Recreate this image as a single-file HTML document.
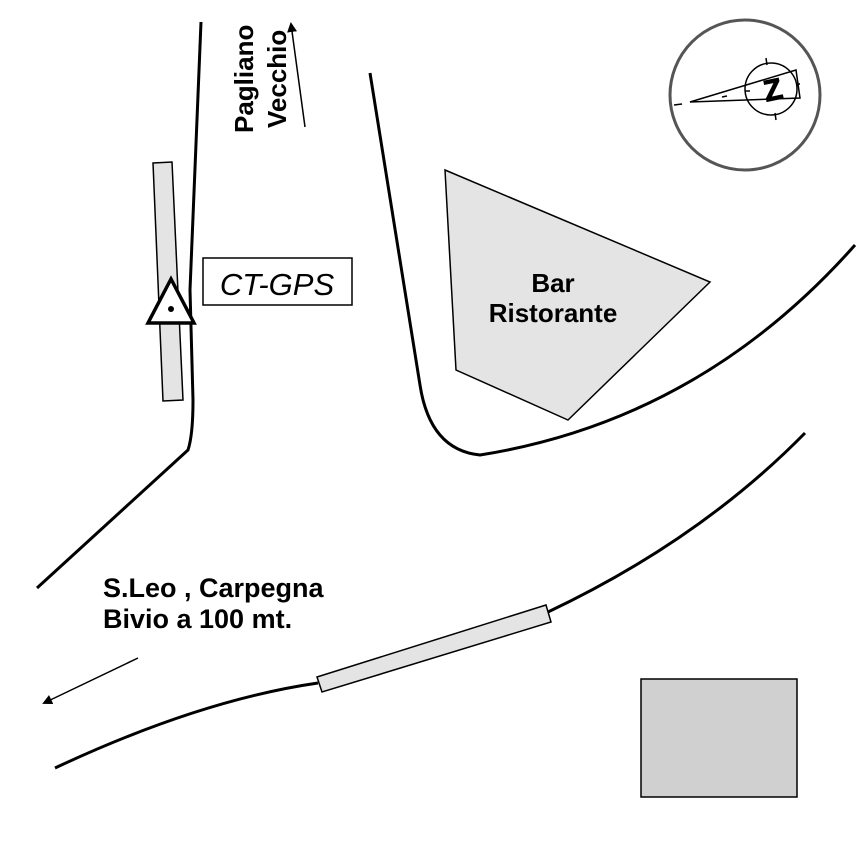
<!DOCTYPE html>
<html><head><style>body{margin:0;background:#fff}svg{display:block}</style></head><body>
<svg width="866" height="866" viewBox="0 0 866 866" xmlns="http://www.w3.org/2000/svg" font-family="Liberation Sans, sans-serif">
<defs><marker id="ah" markerWidth="10" markerHeight="10" refX="8" refY="5" orient="auto" markerUnits="userSpaceOnUse"><path d="M0,0 L10,5 L0,10 z" fill="#000"/></marker></defs>
<polygon points="153,163 172,162 183,400 163,401" fill="#e4e4e4" stroke="#000" stroke-width="1.5"/>
<path d="M201,22 L190,290 Q191,330 193,400 Q193,435 188,450 L37,588" fill="none" stroke="#000" stroke-width="3"/>
<polygon points="171,279 148,323 194,323" fill="#fff" stroke="#000" stroke-width="3.5"/>
<circle cx="171" cy="309" r="3" fill="#000"/>
<rect x="203" y="258" width="149" height="47" fill="#fff" stroke="#000" stroke-width="1.5"/>
<text x="277" y="295" font-size="31" font-style="italic" text-anchor="middle">CT-GPS</text>
<text transform="translate(253,133) rotate(-90)" font-size="26" font-weight="bold">Pagliano</text>
<text transform="translate(286,128) rotate(-90)" font-size="26" font-weight="bold">Vecchio</text>
<line x1="305" y1="127" x2="291" y2="24" stroke="#000" stroke-width="1.5" marker-end="url(#ah)"/>
<path d="M370,73 L420,385 Q430,450 480,455 Q700,420 855,245" fill="none" stroke="#000" stroke-width="3"/>
<polygon points="445,170 710,282 568,420 456,370" fill="#e4e4e4" stroke="#000" stroke-width="1.5"/>
<text x="553" y="292" font-size="26" font-weight="bold" text-anchor="middle">Bar</text>
<text x="553" y="322" font-size="26" font-weight="bold" text-anchor="middle">Ristorante</text>
<circle cx="745" cy="95" r="75" fill="#fff" stroke="#555" stroke-width="3"/>
<circle cx="771" cy="89" r="26" fill="none" stroke="#000" stroke-width="1.5"/>
<path d="M690,102 L796,70 L800,98 Z" fill="none" stroke="#000" stroke-width="1.5"/>
<line x1="674" y1="105" x2="682" y2="104" stroke="#000" stroke-width="1.5"/>
<line x1="722" y1="97" x2="727" y2="96" stroke="#000" stroke-width="1.5"/>
<line x1="766" y1="58" x2="767" y2="65" stroke="#000" stroke-width="1.5"/>
<line x1="775" y1="113" x2="776" y2="120" stroke="#000" stroke-width="1.5"/>
<line x1="745" y1="91" x2="750" y2="91" stroke="#000" stroke-width="1.5"/>
<line x1="796" y1="84" x2="800" y2="84" stroke="#000" stroke-width="1.5"/>
<text x="773" y="100" font-size="30" font-weight="900" stroke="#000" stroke-width="1" text-anchor="middle" transform="rotate(-12 773 90)">Z</text>
<path d="M55,768 Q200,700 318,683 M548,612 Q700,540 805,433" fill="none" stroke="#000" stroke-width="3"/>
<polygon points="317,677 546,605 551,622 322,692" fill="#e4e4e4" stroke="#000" stroke-width="1.5"/>
<text x="103" y="597" font-size="27" font-weight="bold">S.Leo , Carpegna</text>
<text x="103" y="628" font-size="27" font-weight="bold">Bivio a 100 mt.</text>
<line x1="138" y1="658" x2="44" y2="703" stroke="#000" stroke-width="1.5" marker-end="url(#ah)"/>
<rect x="641" y="679" width="156" height="118" fill="#d0d0d0" stroke="#000" stroke-width="1.5"/>
</svg>
</body></html>
